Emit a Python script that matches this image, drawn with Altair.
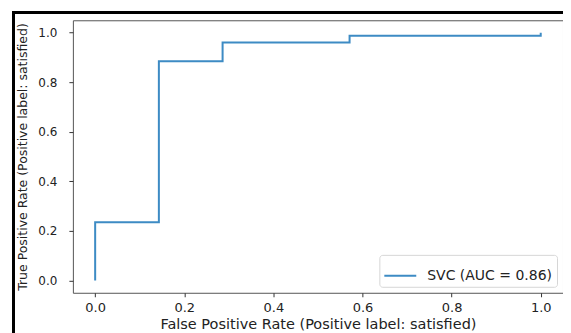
import altair as alt
import pandas as pd

fpr = [0.0, 0.0, 0.143, 0.143, 0.286, 0.286, 0.571, 0.571, 1.0, 1.0]
tpr = [0.0, 0.235, 0.235, 0.885, 0.885, 0.96, 0.96, 0.988, 0.988, 1.0]
series = "SVC (AUC = 0.86)"
ticks = [0.0, 0.2, 0.4, 0.6, 0.8, 1.0]

df = pd.DataFrame({"fpr": fpr, "tpr": tpr, "order": list(range(len(fpr))), "series": series})

FONT = "DejaVu Sans"

line = alt.Chart(df).mark_line(strokeWidth=2, clip=False).encode(
    x=alt.X("fpr:Q", scale=alt.Scale(domain=[-0.05, 1.05], nice=False, zero=False),
            axis=alt.Axis(values=ticks, format=".1f", grid=False,
                          labelFontSize=13, titleFontSize=14.5, labelPadding=5,
                          titlePadding=3,
                          title="False Positive Rate (Positive label: satisfied)")),
    y=alt.Y("tpr:Q", scale=alt.Scale(domain=[-0.05, 1.05], nice=False, zero=False),
            axis=alt.Axis(values=ticks, format=".1f", grid=False,
                          labelFontSize=12, titleFontSize=12.5, labelPadding=12,
                          titlePadding=8,
                          title="True Positive Rate (Positive label: satisfied)")),
    order="order:Q",
    color=alt.Color("series:N", scale=alt.Scale(range=["#3d8bc4"]),
                    legend=alt.Legend(title=None, orient="bottom-right", offset=6,
                                      fillColor="white", strokeColor="#d6d6d6",
                                      cornerRadius=3, padding=4,
                                      symbolType="stroke", symbolSize=1024,
                                      symbolStrokeWidth=2, labelFontSize=14,
                                      labelFont=FONT, labelColor="#222",
                                      labelOffset=10)),
)

frame_top = alt.Chart(df).mark_rule(color="black", strokeWidth=2.5).encode(
    x=alt.value(-60), x2=alt.value(520), y=alt.value(-8)
)
frame_left = alt.Chart(df).mark_rule(color="black", strokeWidth=2.5).encode(
    x=alt.value(-59.5), y=alt.value(-9), y2=alt.value(330)
)

chart = alt.layer(frame_top, frame_left, line).properties(
    width=491, height=273,
    autosize=alt.AutoSizeParams(type="none"),
    padding={"left": 65, "top": 12, "right": 0, "bottom": 40},
).configure_view(
    stroke="#555", strokeWidth=1
).configure_axis(
    labelFont=FONT, titleFont=FONT,
    labelColor="#222", titleColor="#222", titleFontWeight="normal",
    tickColor="#333", tickSize=4, domain=False,
)

chart.save("out.html", embed_options={"renderer": "svg", "actions": False})
